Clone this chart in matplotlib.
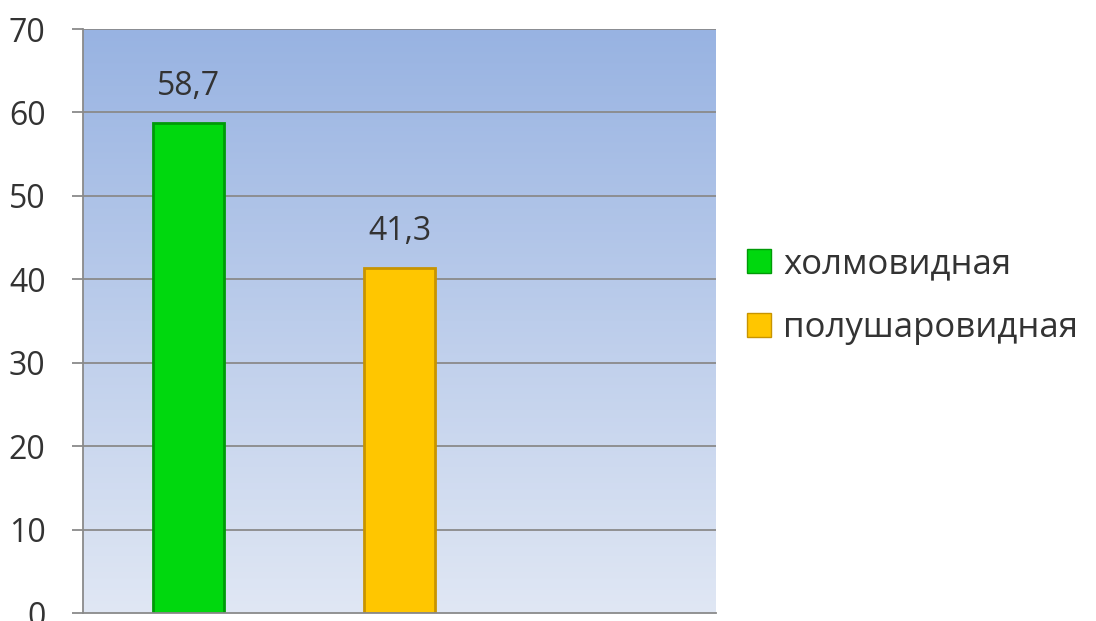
import numpy as np
import matplotlib.pyplot as plt
from matplotlib.patches import Patch

# --- Dados ---
series_names = ["холмовидная", "полушаровидная"]
values = [58.7, 41.3]
value_labels = ["58,7", "41,3"]
y_ticks = [0, 10, 20, 30, 40, 50, 60, 70]

FACE = ["#00d80e", "#ffc600"]
EDGE = ["#009a08", "#c89400"]
TEXT = "#333333"
GRID = "#8a8a8a"

plt.rcParams["font.family"] = ["Open Sans", "DejaVu Sans"]

fig = plt.figure(figsize=(10.96, 6.21), dpi=100)
ax = fig.add_axes([83 / 1096, 8 / 621, (716 - 83) / 1096, (613 - 29) / 621])

# fundo em degradê (azul em cima, claro em baixo)
top = np.array([0x98, 0xb3, 0xe2]) / 255
bot = np.array([0xe0, 0xe7, 0xf4]) / 255
t = np.linspace(0, 1, 256)[:, None]
grad = (bot * (1 - t) + top * t)[:, None, :]
grad = np.repeat(grad, 2, axis=1)
ax.imshow(grad, extent=[-0.5, 2.5, 0, 70], origin="lower", aspect="auto", zorder=0)

ax.set_xlim(-0.5, 2.5)
ax.set_ylim(0, 70)

for yv in y_ticks[1:]:
    ax.axhline(yv, color=GRID, lw=1.3, zorder=1)

x = np.arange(len(values))
bars = ax.bar(x, values, width=0.34, color=FACE, edgecolor=EDGE, linewidth=2, zorder=2)

for bar, lab in zip(bars, value_labels):
    ax.text(bar.get_x() + bar.get_width() / 2, bar.get_height() + 2.4, lab,
            ha="center", va="bottom", fontsize=23, color=TEXT)

ax.set_yticks(y_ticks)
ax.set_yticklabels([str(v) for v in y_ticks], fontsize=23, color=TEXT)
ax.set_xticks([])
ax.tick_params(axis="y", length=8, width=1.3, color=GRID, pad=19)

for side in ["top", "right"]:
    ax.spines[side].set_visible(False)
for side in ["left", "bottom"]:
    ax.spines[side].set_color(GRID)
    ax.spines[side].set_linewidth(1.3)

handles = [Patch(facecolor=FACE[i], edgecolor=EDGE[i], label=series_names[i])
           for i in range(len(series_names))]
fig.legend(handles=handles, loc="center left", bbox_to_anchor=(0.653, 0.5225),
           frameon=False, fontsize=25, handlelength=0.68, handleheight=0.68,
           handletextpad=0.37, labelspacing=0.86, labelcolor=TEXT)

fig.savefig("out.png", dpi=100)
